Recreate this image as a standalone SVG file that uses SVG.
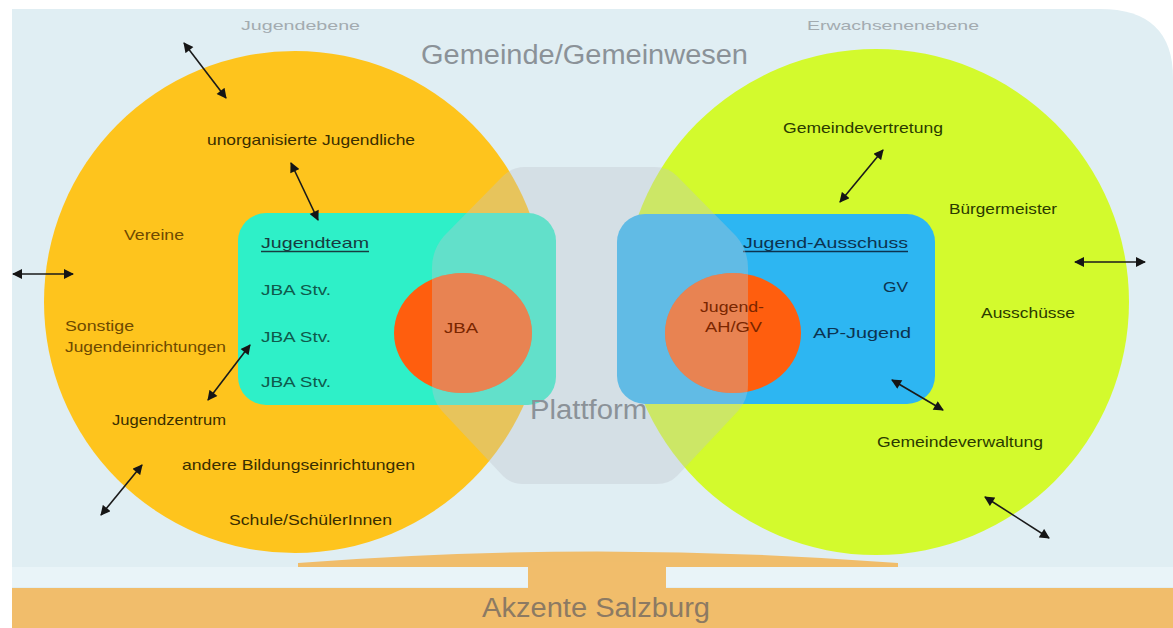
<svg xmlns="http://www.w3.org/2000/svg" xmlns:xlink="http://www.w3.org/1999/xlink" width="1173" height="628" viewBox="0 0 1173 628">
<style>
  .t { font-family: "Liberation Sans", Arial, sans-serif; font-size: 14.5px; }
  .big { font-family: "Liberation Sans", Arial, sans-serif; font-size: 27px; fill: #8b9298; }
  .lvl { font-family: "Liberation Sans", Arial, sans-serif; font-size: 13px; fill: #a3abb0; }
  .dy { fill: #3a2e00; }
  .br { fill: #6e4a00; }
  .dg { fill: #2b3a00; }
  .tl { fill: #0f5a4c; }
  .nv { fill: #0c3350; }
  .rd { fill: #7a2600; }
  .conn line { stroke: #1a1a1a; stroke-width: 1.6; marker-start: url(#ah); marker-end: url(#ah); }
  .plat { fill: #bec6cc; fill-opacity: 0.36; }
  .ul { stroke-width: 1.3; }
</style>
<defs>
  <marker id="ah" viewBox="0 0 10 10" refX="9" refY="5" markerWidth="11" markerHeight="10" markerUnits="userSpaceOnUse" orient="auto-start-reverse">
    <path d="M0,0 L10,5 L0,10 z" fill="#151515"/>
  </marker>
  <path id="platShape" d="M 525,167 L 655,167 Q 668,167 677,176 L 736,236 Q 748,250 748,268 L 748,385 Q 748,400 738,411 L 677,476 Q 669,484 657,484 L 523,484 Q 511,484 503,476 L 442,411 Q 432,400 432,385 L 432,268 Q 432,250 444,236 L 503,176 Q 512,167 525,167 Z"/>
  <clipPath id="clipJBA"><ellipse cx="463" cy="333" rx="69" ry="60"/></clipPath>
  <clipPath id="clipAH"><ellipse cx="733" cy="333" rx="68" ry="60"/></clipPath>
</defs>

<rect x="0" y="0" width="1173" height="628" fill="#ffffff"/>
<g id="background">
  <path d="M 12,9 L 1100,9 Q 1173,9 1173,78 L 1173,590 L 12,590 Z" fill="#e0eef3"/>
  <rect x="12" y="567" width="1161" height="20" fill="#e9f4f8"/>
</g>

<g id="akzente">
  <path d="M 298,563 Q 597,540 898,563 L 898,567 L 298,567 Z" fill="#f0bd6b"/>
  <rect x="528" y="562" width="138" height="28" fill="#f1bd6b"/>
  <rect x="12" y="588" width="1161" height="40" fill="#f1bd6b"/>
  <text class="big" x="482" y="617" textLength="228" lengthAdjust="spacingAndGlyphs" style="fill:#8c7a63">Akzente Salzburg</text>
</g>

<g id="gemeinde">
  <text class="big" x="421" y="64" textLength="327" lengthAdjust="spacingAndGlyphs">Gemeinde/Gemeinwesen</text>
</g>

<g id="jugendebene">
  <circle cx="295" cy="302" r="251" fill="#fec41d"/>
  <text class="lvl" x="241" y="30" textLength="119" lengthAdjust="spacingAndGlyphs">Jugendebene</text>
</g>

<g id="erwachsenenebene">
  <circle cx="876" cy="302" r="253" fill="#d3fa2d"/>
  <text class="lvl" x="807" y="30" textLength="172" lengthAdjust="spacingAndGlyphs">Erwachsenenebene</text>
</g>

<g id="unorganisierte">
  <text class="t dy" x="207" y="145" textLength="208" lengthAdjust="spacingAndGlyphs">unorganisierte Jugendliche</text>
</g>
<g id="vereine">
  <text class="t br" x="124" y="240" textLength="60" lengthAdjust="spacingAndGlyphs">Vereine</text>
</g>
<g id="sonstige">
  <text class="t br" x="65" y="331" textLength="69" lengthAdjust="spacingAndGlyphs">Sonstige</text>
  <text class="t br" x="65" y="352" textLength="161" lengthAdjust="spacingAndGlyphs">Jugendeinrichtungen</text>
</g>
<g id="jugendzentrum">
  <text class="t dy" x="112" y="425" textLength="114" lengthAdjust="spacingAndGlyphs">Jugendzentrum</text>
</g>
<g id="bildung">
  <text class="t dy" x="182" y="470" textLength="233" lengthAdjust="spacingAndGlyphs">andere Bildungseinrichtungen</text>
</g>
<g id="schule">
  <text class="t dy" x="229" y="525" textLength="163" lengthAdjust="spacingAndGlyphs">Schule/SchülerInnen</text>
</g>

<g id="gemeindevertretung">
  <text class="t dg" x="783" y="133" textLength="160" lengthAdjust="spacingAndGlyphs">Gemeindevertretung</text>
</g>
<g id="buergermeister">
  <text class="t dg" x="949" y="214" textLength="108" lengthAdjust="spacingAndGlyphs">Bürgermeister</text>
</g>
<g id="ausschuesse">
  <text class="t dg" x="981" y="318" textLength="94" lengthAdjust="spacingAndGlyphs">Ausschüsse</text>
</g>
<g id="gemeindeverwaltung">
  <text class="t dg" x="877" y="447" textLength="166" lengthAdjust="spacingAndGlyphs">Gemeindeverwaltung</text>
</g>

<g id="jugendteam">
  <rect x="238" y="213" width="318" height="192" rx="28" fill="#2ef0c8"/>
  <text class="t tl" x="261" y="248" textLength="108" lengthAdjust="spacingAndGlyphs" style="fill:#173c40">Jugendteam</text>
  <line class="ul" x1="261" y1="251.5" x2="369" y2="251.5" stroke="#173c40"/>
  <text class="t tl" x="261" y="295" textLength="70" lengthAdjust="spacingAndGlyphs">JBA Stv.</text>
  <text class="t tl" x="261" y="342" textLength="70" lengthAdjust="spacingAndGlyphs">JBA Stv.</text>
  <text class="t tl" x="261" y="387" textLength="70" lengthAdjust="spacingAndGlyphs">JBA Stv.</text>
</g>

<g id="jugendausschuss">
  <rect x="617" y="214" width="318" height="190" rx="28" fill="#2db6f2"/>
  <text class="t nv" x="743" y="248" textLength="165" lengthAdjust="spacingAndGlyphs">Jugend-Ausschuss</text>
  <line class="ul" x1="743" y1="251.5" x2="908" y2="251.5" stroke="#0c3350"/>
  <text class="t nv" x="883" y="292" textLength="25" lengthAdjust="spacingAndGlyphs">GV</text>
  <text class="t nv" x="813" y="338" textLength="98" lengthAdjust="spacingAndGlyphs">AP-Jugend</text>
</g>

<g id="plattform">
  <use xlink:href="#platShape" class="plat"/>
  <text class="big" x="530" y="419" textLength="117" lengthAdjust="spacingAndGlyphs">Plattform</text>
</g>

<g id="jba">
  <ellipse cx="463" cy="333" rx="69" ry="60" fill="#ff5e0e"/>
  <use xlink:href="#platShape" class="plat" clip-path="url(#clipJBA)"/>
  <text class="t rd" x="444" y="333" textLength="34" lengthAdjust="spacingAndGlyphs">JBA</text>
</g>

<g id="jugend-ahgv">
  <ellipse cx="733" cy="333" rx="68" ry="60" fill="#ff5e0e"/>
  <use xlink:href="#platShape" class="plat" clip-path="url(#clipAH)"/>
  <text class="t rd" x="700" y="312" textLength="64" lengthAdjust="spacingAndGlyphs">Jugend-</text>
  <text class="t rd" x="705" y="332" textLength="57" lengthAdjust="spacingAndGlyphs">AH/GV</text>
</g>

<g id="connectors" class="conn">
  <line x1="184" y1="43" x2="226" y2="98"/>
  <line x1="291" y1="163" x2="318" y2="220"/>
  <line x1="13" y1="274" x2="73" y2="274"/>
  <line x1="250" y1="345" x2="208" y2="400"/>
  <line x1="142" y1="465" x2="101" y2="515"/>
  <line x1="883" y1="150" x2="840" y2="202"/>
  <line x1="1075" y1="262" x2="1145" y2="262"/>
  <line x1="892" y1="380" x2="943" y2="410"/>
  <line x1="985" y1="497" x2="1049" y2="538"/>
</g>
</svg>
